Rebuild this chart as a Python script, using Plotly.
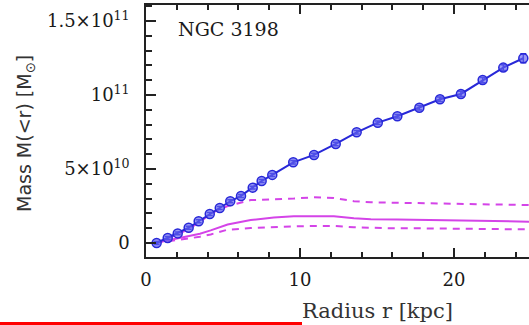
import plotly.graph_objects as go

# Blue data points: radius [kpc] and enclosed mass [M_sun]
r_pts = [0.69, 1.41, 2.06, 2.77, 3.42, 4.14, 4.79, 5.47, 6.17, 6.93, 7.51, 8.2,
         9.56, 10.91, 12.32, 13.68, 15.05, 16.32, 17.75, 19.09, 20.45, 21.86, 23.2, 24.5]
m_pts = [0.0, 0.34e10, 0.65e10, 1.03e10, 1.47e10, 1.96e10, 2.36e10, 2.82e10, 3.18e10,
         3.74e10, 4.19e10, 4.6e10, 5.45e10, 5.95e10, 6.69e10, 7.48e10, 8.13e10, 8.56e10,
         9.14e10, 9.71e10, 10.07e10, 11.01e10, 11.85e10, 12.48e10]
m_err = [0.1e10, 0.1e10, 0.1e10, 0.1e10, 0.1e10, 0.1e10, 0.1e10, 0.1e10, 0.1e10,
         0.1e10, 0.1e10, 0.1e10, 0.12e10, 0.12e10, 0.12e10, 0.12e10, 0.12e10, 0.12e10,
         0.15e10, 0.15e10, 0.18e10, 0.18e10, 0.2e10, 0.3e10]

# Magenta model curves
r_model = [0.6, 1.5, 2.5, 2.9, 3.5, 4.2, 5.3, 6.8, 8.3, 9.6, 10.9, 12.2, 13.5, 14.6,
           16.3, 18, 20, 22, 24, 25]
m_mid = [0.0, 0.2e10, 0.38e10, 0.47e10, 0.62e10, 0.85e10, 1.25e10, 1.55e10, 1.73e10, 1.8e10,
         1.82e10, 1.8e10, 1.67e10, 1.6e10, 1.58e10, 1.56e10, 1.55e10, 1.52e10, 1.48e10, 1.44e10]
m_hi = [0.0, 0.35e10, 0.8e10, 1.05e10, 1.4e10, 2.0e10, 2.5e10, 2.9e10, 2.95e10, 3.0e10,
        3.09e10, 3.04e10, 2.82e10, 2.75e10, 2.72e10, 2.68e10, 2.66e10, 2.6e10, 2.57e10, 2.56e10]
m_lo = [0.0, 0.12e10, 0.25e10, 0.32e10, 0.42e10, 0.58e10, 0.9e10, 1.01e10, 1.1e10, 1.13e10,
        1.15e10, 1.15e10, 1.06e10, 1.02e10, 0.99e10, 0.99e10, 0.98e10, 0.95e10, 0.92e10, 0.92e10]

y_tickvals = [0, 5e10, 1e11, 1.5e11]
y_ticktext = ["0", "5×10<sup>10</sup>", "10<sup>11</sup>", "1.5×10<sup>11</sup>"]
x_tickvals = [0, 10, 20]
x_ticktext = ["0", "10", "20"]

MAG = "#d444e8"
BLUE = "#2828d8"

fig = go.Figure()
fig.add_trace(go.Scatter(x=r_model, y=m_hi, mode="lines",
                         line=dict(color=MAG, width=2, dash="7px,6px"), showlegend=False))
fig.add_trace(go.Scatter(x=r_model, y=m_lo, mode="lines",
                         line=dict(color=MAG, width=2, dash="7px,6px"), showlegend=False))
fig.add_trace(go.Scatter(x=r_model, y=m_mid, mode="lines",
                         line=dict(color=MAG, width=2), showlegend=False))
fig.add_trace(go.Scatter(x=r_pts, y=m_pts, mode="lines+markers",
                         line=dict(color=BLUE, width=2),
                         marker=dict(symbol="circle", size=9, color="rgba(100,100,240,0.65)",
                                     line=dict(color=BLUE, width=1.5)),
                         error_y=dict(type="data", array=m_err, color=BLUE, thickness=1.5, width=3),
                         showlegend=False))

axis_font = dict(family="DejaVu Serif", size=18, color="#1a1a1a")

fig.update_xaxes(range=[0, 24.87], tickvals=x_tickvals, ticktext=x_ticktext,
                 ticks="inside", ticklen=9, tickwidth=1.5, tickcolor="#222",
                 showline=True, linecolor="#222", linewidth=1.5, mirror="allticks",
                 showgrid=False, zeroline=False, tickfont=axis_font, ticklabelstandoff=6,
                 minor=dict(dtick=2, tick0=0, ticks="inside", ticklen=5, tickwidth=1.5,
                            tickcolor="#222", showgrid=False))
fig.update_yaxes(range=[-0.946e10, 1.608e11], tickvals=y_tickvals, ticktext=y_ticktext,
                 ticks="inside", ticklen=10, tickwidth=1.5, tickcolor="#222",
                 showline=True, linecolor="#222", linewidth=1.5, mirror=False,
                 showgrid=False, zeroline=False, tickfont=axis_font, ticklabelstandoff=11,
                 minor=dict(dtick=1e10, tick0=0, ticks="inside", ticklen=6, tickwidth=1.5,
                            tickcolor="#222", showgrid=False))

fig.add_annotation(text="NGC 3198", xref="paper", yref="paper",
                   x=(176 - 146) / 383, y=(257 - 29) / 252, xanchor="left", yanchor="middle",
                   showarrow=False, font=dict(family="DejaVu Serif", size=19, color="#1a1a1a"))
fig.add_annotation(text="Radius r [kpc]", xref="paper", yref="paper",
                   x=(377 - 146) / 383, y=(257 - 311) / 252, xanchor="center", yanchor="middle",
                   showarrow=False, font=dict(family="DejaVu Serif", size=21, color="#333"))
fig.add_annotation(text="Mass M(<r) [M<sub>⊙</sub>]", xref="paper", yref="paper",
                   x=(25 - 146) / 383, y=(257 - 133) / 252, xanchor="center", yanchor="middle",
                   textangle=-90, showarrow=False,
                   font=dict(family="DejaVu Sans", size=19, color="#333"))

# red bar at bottom left
fig.add_shape(type="rect", xref="paper", yref="paper",
              x0=(0 - 146) / 383, x1=(302 - 146) / 383,
              y0=(257 - 326) / 252, y1=(257 - 322) / 252,
              fillcolor="#ff0000", line=dict(width=0))

fig.update_layout(width=529, height=325, margin=dict(l=146, r=0, t=5, b=68),
                  plot_bgcolor="white", paper_bgcolor="white")

fig.write_html("out.html", config={"displayModeBar": False},
               post_script="document.body.style.margin='0';document.body.style.overflow='hidden';")
